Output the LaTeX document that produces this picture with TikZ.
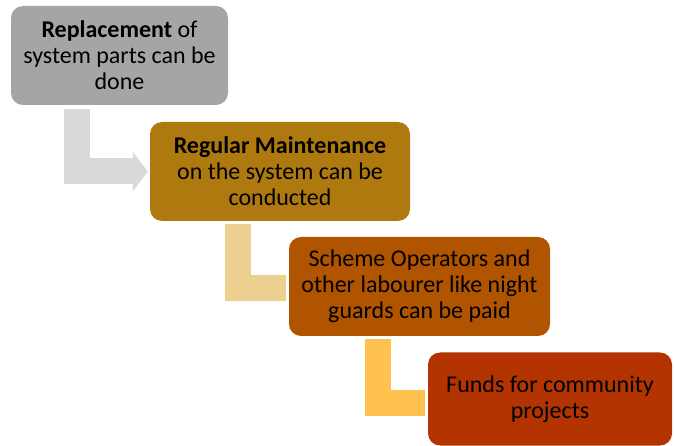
\documentclass[tikz,border=0pt]{standalone}
\usepackage{fontspec}
\setmainfont{Carlito}
\usepackage{tikz}
\usepackage{xcolor}
\usetikzlibrary{arrows.meta}

\definecolor{stepgray}{HTML}{A5A5A5}
\definecolor{stepgold}{HTML}{AE7A10}
\definecolor{steprust}{HTML}{B05400}
\definecolor{stepred}{HTML}{B33400}
\definecolor{benda}{HTML}{D9D9D9}
\definecolor{bendb}{HTML}{EDD08F}
\definecolor{bendc}{HTML}{FFC14F}

\begin{document}
\begin{tikzpicture}[x=1pt, y=-1pt,
    stepbox/.style={rounded corners=12pt, inner sep=0pt, align=center,
        font=\fontsize{24}{26}\selectfont, text=black},
    bendbar/.style={line width=26pt, shorten >=3pt}]
    \useasboundingbox (0,0) rectangle (675,446);
    % Steps
    \node[stepbox, fill=stepgray, minimum width=217pt, minimum height=99pt] (b1) at (119.5,55.5)
        {\textbf{Replacement} of\\system parts can be\\done};
    \node[stepbox, fill=stepgold, minimum width=260pt, minimum height=99pt] (b2) at (280,171.5)
        {\textbf{Regular Maintenance}\\on the system can be\\conducted};
    \node[stepbox, fill=steprust, minimum width=261pt, minimum height=99pt] (b3) at (419.5,286.5)
        {Scheme Operators and\\other labourer like night\\guards can be paid};
    \node[stepbox, fill=stepred, minimum width=244pt, minimum height=93pt] (b4) at (550,399)
        {Funds for community\\projects};
    
    % Bent arrows
    \draw[bendbar, benda, shorten >=2pt, -{Triangle[width=39pt, length=15pt]}]
        ([xshift=66pt, yshift=-4pt]b1.south west) |- (b2.west);
    \draw[bendbar, bendb] ([xshift=88pt, yshift=-3pt]b2.south west) |- ([yshift=-1.5pt]b3.west);
    \draw[bendbar, bendc] ([xshift=89pt, yshift=-3pt]b3.south west) |- ([yshift=-4pt]b4.west);
\end{tikzpicture}
\end{document}
